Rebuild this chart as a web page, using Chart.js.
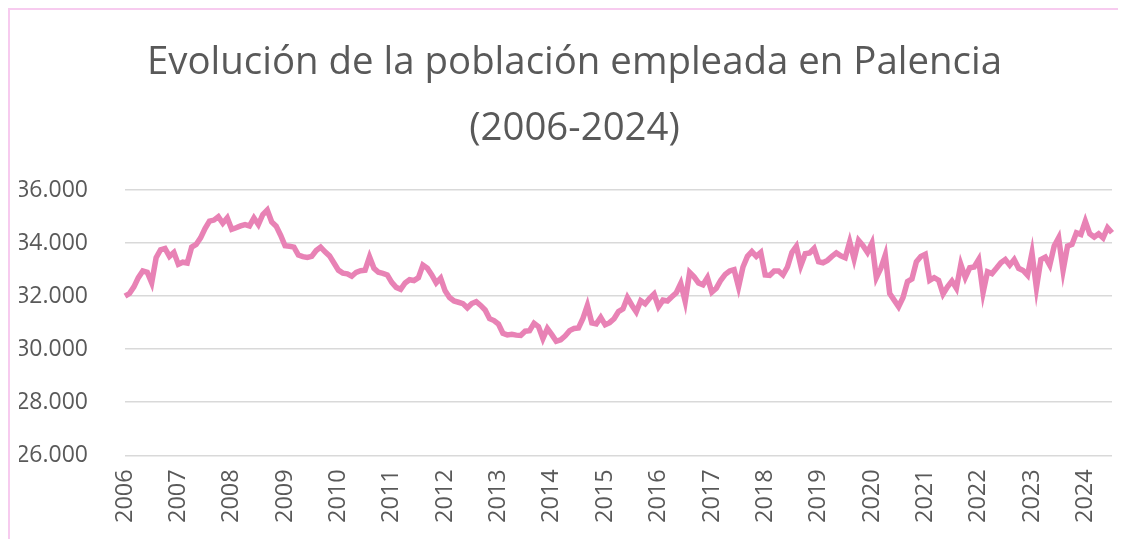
<!DOCTYPE html>
<html>
<head>
<meta charset="utf-8">
<script src="https://cdn.jsdelivr.net/npm/chart.js@4"></script>
<style>
  html, body { margin: 0; padding: 0; background: #fff; }
  #wrap { position: relative; width: 1131px; height: 539px; }
  #frame { position: absolute; left: 8px; top: 8px; width: 1108px; height: 540px;
           border-top: 2px solid #F7CBEF; border-left: 2px solid #F7CBEF; pointer-events: none; }
</style>
</head>
<body>
<div id="wrap">
  <canvas id="myChart"></canvas>
  <div id="frame"></div>
</div>
<script>
// tick labels shown on the x axis (one per year)
const years = ['2006', '2007', '2008', '2009', '2010', '2011', '2012', '2013', '2014',
  '2015', '2016', '2017', '2018', '2019', '2020', '2021', '2022', '2023', '2024']

// monthly values, Jan 2006 - Jul 2024
const ocupados = [
  32000, 32100, 32350, 32700, 32950, 32900, 32500, 33450, 33750, 33800, 33500, 33650, // 2006
  33200, 33280, 33250, 33850, 33950, 34200, 34550, 34830, 34870, 35000, 34750, 34950, // 2007
  34520, 34580, 34650, 34700, 34650, 34950, 34700, 35080, 35250, 34800, 34640, 34300, // 2008
  33900, 33880, 33850, 33550, 33490, 33460, 33500, 33720, 33850, 33670, 33520, 33250, // 2009
  32980, 32870, 32840, 32750, 32900, 32960, 32980, 33480, 33050, 32900, 32860, 32800, // 2010
  32520, 32330, 32260, 32500, 32620, 32590, 32700, 33170, 33050, 32800, 32500, 32680, // 2011
  32200, 31950, 31820, 31770, 31720, 31560, 31720, 31790, 31650, 31480, 31150, 31080, // 2012
  30950, 30600, 30540, 30560, 30530, 30520, 30680, 30700, 30980, 30850, 30400, 30780, // 2013
  30550, 30300, 30350, 30500, 30700, 30780, 30800, 31160, 31650, 30990, 30950, 31200, // 2014
  30920, 31000, 31150, 31420, 31520, 31950, 31660, 31410, 31830, 31710, 31920, 32080, // 2015
  31600, 31850, 31820, 31980, 32130, 32480, 31800, 32900, 32730, 32500, 32430, 32700, // 2016
  32150, 32300, 32600, 32820, 32950, 33000, 32350, 33100, 33500, 33680, 33500, 33650, // 2017
  32800, 32780, 32950, 32950, 32800, 33100, 33650, 33880, 33150, 33600, 33630, 33800, // 2018
  33300, 33260, 33350, 33500, 33630, 33520, 33450, 34050, 33400, 34100, 33900, 33650, // 2019
  34000, 32700, 33050, 33550, 32100, 31850, 31600, 31950, 32550, 32650, 33300, 33500, // 2020
  33580, 32600, 32700, 32600, 32080, 32350, 32570, 32300, 33200, 32700, 33070, 33100, // 2021
  33380, 32130, 32920, 32850, 33050, 33260, 33380, 33170, 33380, 33050, 32970, 32790, // 2022
  33630, 32310, 33380, 33470, 33170, 33890, 34200, 32970, 33890, 33950, 34390, 34330, // 2023
  34830, 34350, 34230, 34350, 34200, 34580, 34390                                      // 2024
]

// one category per month, the year only on January
const meses = []
for (let i = 0; i < ocupados.length; i++) {
  meses.push(i % 12 === 0 ? years[i / 12] : '')
}

const gris = '#595959'
const fmt = v => String(v).replace(/\B(?=(\d{3})+(?!\d))/g, '.')

// the title in the original sits a bit right of the canvas centre
const moverTitulo = {
  id: 'moverTitulo',
  afterLayout(chart) {
    if (chart.titleBlock) chart.titleBlock.left += 18
  }
}

new Chart(document.getElementById('myChart'), {
  type: 'line',
  data: {
    labels: meses,
    datasets: [{
      data: ocupados,
      borderColor: '#E882B5',
      borderWidth: 5.5,
      pointRadius: 0,
      tension: 0,
      fill: false
    }]
  },
  plugins: [moverTitulo],
  options: {
    responsive: true,
    maintainAspectRatio: false,
    animation: false,
    layout: { padding: { left: 19, right: 19, top: 10, bottom: 10 } },
    plugins: {
      legend: { display: false },
      tooltip: { enabled: false },
      title: {
        display: true,
        text: ['Evolución de la población empleada en Palencia', '(2006-2024)'],
        color: gris,
        font: { family: 'Open Sans', size: 38.4, weight: 'normal', lineHeight: 1.72 },
        padding: { top: 20, bottom: 28 }
      }
    },
    scales: {
      x: {
        afterFit: s => { s.paddingRight = 0 },
        grid: { display: false },
        border: { display: false },
        ticks: {
          autoSkip: false,
          maxRotation: 90,
          minRotation: 90,
          padding: 6,
          color: gris,
          font: { family: 'Open Sans', size: 23.5 }
        }
      },
      y: {
        min: 26000,
        max: 36000,
        afterFit: s => { s.width = 106 },
        grid: { color: '#D9D9D9', lineWidth: 1.5, drawTicks: false },
        border: { display: false },
        ticks: {
          stepSize: 2000,
          padding: 37,
          color: gris,
          font: { family: 'Open Sans', size: 23 },
          callback: v => fmt(v)
        }
      }
    }
  }
})
</script>
</body>
</html>
